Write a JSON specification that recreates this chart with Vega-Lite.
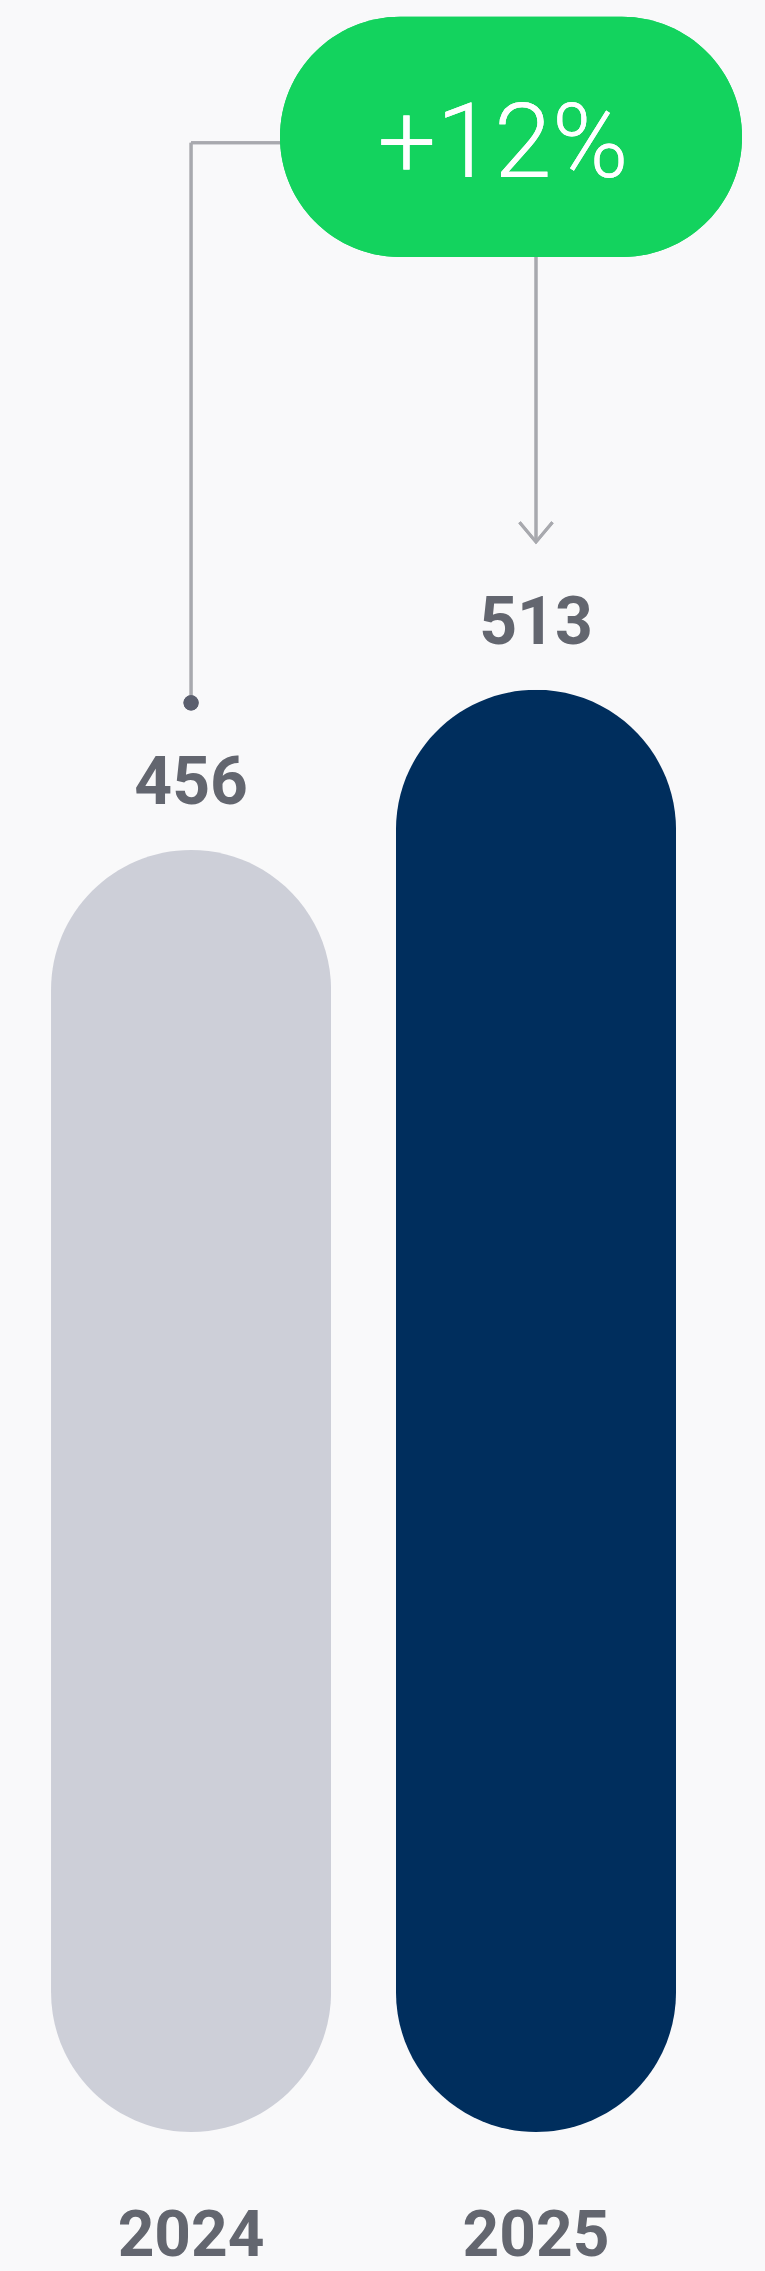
{
  "$schema": "https://vega.github.io/schema/vega-lite/v6.json",
  "width": 765,
  "height": 2132,
  "autosize": {"type": "none"},
  "padding": {"left": 0, "top": 0, "right": 0, "bottom": 139},
  "background": "#f9f9fa",
  "config": {
    "view": {"stroke": null},
    "font": "Roboto",
    "axisX": {
      "domain": false,
      "ticks": false,
      "grid": false,
      "labelAngle": 0,
      "labelFont": "Roboto",
      "labelFontSize": 64,
      "labelFontWeight": "bold",
      "labelColor": "#63666f",
      "labelBaseline": "alphabetic",
      "labelPadding": 123
    }
  },
  "data": {
    "values": [
      {"year": "2024", "value": 456},
      {"year": "2025", "value": 513}
    ]
  },
  "layer": [
    {
      "mark": {"type": "bar", "cornerRadius": 140},
      "encoding": {
        "x": {
          "field": "year",
          "type": "nominal",
          "title": null,
          "scale": {
            "domain": ["2024", "2025"],
            "paddingInner": 0.188,
            "paddingOuter": 0.2029,
            "align": 0.3645,
            "round": false
          }
        },
        "y": {
          "field": "value",
          "type": "quantitative",
          "axis": null,
          "scale": {"domain": [0, 758.4], "nice": false, "zero": true}
        },
        "color": {
          "field": "year",
          "type": "nominal",
          "legend": null,
          "scale": {"domain": ["2024", "2025"], "range": ["#cdcfd8", "#002e5d"]}
        }
      }
    },
    {
      "mark": {
        "type": "text",
        "baseline": "alphabetic",
        "align": "center",
        "dy": -46,
        "font": "Roboto",
        "fontSize": 66,
        "fontWeight": "bold",
        "color": "#63666f"
      },
      "encoding": {
        "x": {"field": "year", "type": "nominal"},
        "y": {"field": "value", "type": "quantitative", "axis": null},
        "text": {"field": "value", "type": "quantitative"}
      }
    },
    {
      "mark": {"type": "rule", "color": "#a8a9ae", "strokeWidth": 3},
      "encoding": {
        "x": {"datum": "2024", "type": "nominal"},
        "y": {"datum": 508.4, "type": "quantitative", "axis": null},
        "y2": {"datum": 707.6}
      }
    },
    {
      "mark": {"type": "rule", "color": "#a8a9ae", "strokeWidth": 3},
      "encoding": {
        "x": {"datum": "2024", "type": "nominal"},
        "x2": {"datum": "2025"},
        "y": {"datum": 707.6, "type": "quantitative", "axis": null}
      }
    },
    {
      "mark": {"type": "rule", "color": "#a8a9ae", "strokeWidth": 3},
      "encoding": {
        "x": {"datum": "2025", "type": "nominal"},
        "y": {"datum": 709.7, "type": "quantitative", "axis": null},
        "y2": {"datum": 565.6}
      }
    },
    {
      "mark": {
        "type": "point",
        "shape": "M-1,-1.2L0,0L1,-1.2",
        "filled": false,
        "size": 1090,
        "stroke": "#a8a9ae",
        "strokeWidth": 3,
        "opacity": 1
      },
      "encoding": {
        "x": {"datum": "2025", "type": "nominal"},
        "y": {"datum": 565.6, "type": "quantitative", "axis": null}
      }
    },
    {
      "mark": {"type": "circle", "size": 230, "color": "#5b5f6e", "opacity": 1},
      "encoding": {
        "x": {"datum": "2024", "type": "nominal"},
        "y": {"datum": 508.4, "type": "quantitative", "axis": null}
      }
    },
    {
      "mark": {
        "type": "bar",
        "width": 462,
        "xOffset": -25,
        "cornerRadius": 120,
        "color": "#13d35e"
      },
      "encoding": {
        "x": {"datum": "2025", "type": "nominal"},
        "y": {"datum": 667.0, "type": "quantitative", "axis": null},
        "y2": {"datum": 752.4}
      }
    },
    {
      "mark": {
        "type": "text",
        "text": "+12%",
        "baseline": "alphabetic",
        "align": "center",
        "dy": 40,
        "xOffset": -33,
        "font": "Roboto",
        "fontSize": 104,
        "fontWeight": 300,
        "color": "#ffffff"
      },
      "encoding": {
        "x": {"datum": "2025", "type": "nominal"},
        "y": {"datum": 709.7, "type": "quantitative", "axis": null}
      }
    }
  ]
}
